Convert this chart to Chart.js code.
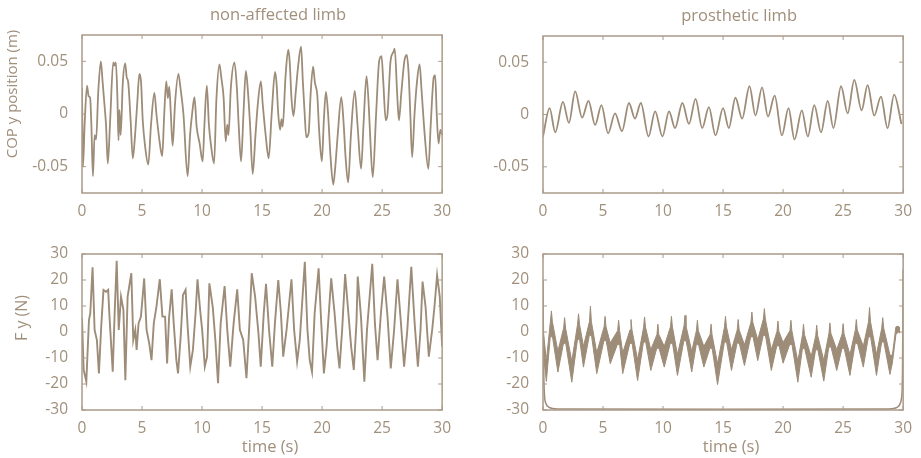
<!DOCTYPE html>
<html>
<head>
<meta charset="utf-8">
<script src="https://cdn.jsdelivr.net/npm/chart.js@4.4.0/dist/chart.umd.min.js"></script>
<style>
body { margin: 0; background: #fff; }
#wrap { position: relative; width: 921px; height: 458px; }
canvas { position: absolute; }
</style>
</head>
<body>
<div id="wrap">
  <canvas id="copAff" width="460" height="229" style="left:0;top:0"></canvas>
  <canvas id="copPro" width="460" height="229" style="left:461px;top:0"></canvas>
  <canvas id="fyAff" width="460" height="229" style="left:0;top:229px"></canvas>
  <canvas id="fyPro" width="460" height="229" style="left:461px;top:229px"></canvas>
</div>
<script>
const timeTicks = [0, 5, 10, 15, 20, 25, 30];
const copTicks = [-0.05, 0, 0.05];
const forceTicks = [-30, -20, -10, 0, 10, 20, 30];

// COP y, non-affected limb (time s, position m)
const copAffT = [0, 0.08, 0.22, 0.42, 0.55, 0.68, 0.78, 0.91, 1.05, 1.18, 1.35, 1.57, 1.72, 1.9, 2.0, 2.15, 2.35, 2.6, 2.72, 2.82,
  2.95, 3.04, 3.12, 3.22, 3.4, 3.6, 3.72, 3.85, 4.05, 4.23, 4.42, 4.6, 4.78, 4.92, 5.06, 5.25, 5.52, 5.75, 6.03, 6.2,
  6.45, 6.68, 6.85, 7.02, 7.15, 7.27, 7.4, 7.55, 7.75, 8.03, 8.2, 8.45, 8.8, 9.0, 9.2, 9.37, 9.55, 9.8, 10.05, 10.2,
  10.4, 10.57, 10.75, 11.0, 11.2, 11.45, 11.6, 11.8, 11.97, 12.1, 12.2, 12.4, 12.7, 12.9, 13.05, 13.25, 13.45, 13.65, 13.8, 14.0,
  14.22, 14.45, 14.65, 14.9, 15.05, 15.3, 15.55, 15.8, 16.08, 16.2, 16.35, 16.5, 16.62, 16.72, 16.95, 17.18, 17.3, 17.45, 17.62, 17.8,
  18.0, 18.25, 18.4, 18.55, 18.68, 18.88, 19.05, 19.25, 19.4, 19.6, 19.75, 19.98, 20.15, 20.32, 20.5, 20.7, 20.93, 21.1, 21.3, 21.6,
  21.8, 21.95, 22.17, 22.4, 22.72, 22.95, 23.25, 23.45, 23.7, 23.9, 24.0, 24.22, 24.5, 24.75, 24.95, 25.1, 25.3, 25.45, 25.7, 25.95,
  26.05, 26.25, 26.4, 26.6, 26.85, 27.05, 27.2, 27.35, 27.5, 27.7, 27.9, 28.12, 28.3, 28.55, 28.85, 29.05, 29.3, 29.42, 29.55, 29.7,
  29.85, 30];
const copAffY = [0.025, -0.05, -0.01, 0.027, 0.017, 0.015, -0.01, -0.059, -0.02, -0.024, 0.02, 0.05, 0.03, 0.005, -0.01, -0.047, -0.005, 0.049, 0.046, 0.049,
  0.015, -0.025, 0.004, -0.02, 0.03, 0.048, 0.035, 0.03, -0.006, -0.042, -0.02, 0.01, 0.038, 0.03, -0.006, -0.03, -0.048, -0.01, 0.02, 0.0,
  -0.025, -0.04, 0.0, 0.031, 0.015, 0.026, 0.0, -0.03, 0.01, 0.038, 0.025, 0.0, -0.059, -0.02, 0.003, 0.016, -0.012, -0.028, -0.045, -0.01,
  0.027, -0.01, -0.03, -0.047, 0.015, 0.047, 0.035, 0.015, -0.026, -0.01, -0.02, 0.025, 0.049, 0.025, -0.01, -0.045, 0.0, 0.041, 0.025, -0.01,
  -0.057, -0.02, 0.01, 0.031, 0.01, -0.02, -0.042, 0.0, 0.04, 0.03, 0.0, -0.015, -0.005, -0.012, 0.035, 0.061, 0.05, 0.015, -0.002, 0.02,
  0.045, 0.064, 0.03, 0.0, -0.022, -0.018, 0.02, 0.045, 0.03, 0.018, -0.015, -0.045, -0.005, 0.021, 0.0, -0.04, -0.067, -0.05, -0.02, 0.016,
  -0.01, -0.04, -0.065, -0.02, 0.022, -0.01, -0.052, -0.01, 0.036, 0.005, -0.02, -0.06, 0.0, 0.05, 0.055, 0.03, -0.006, 0.0, 0.05, 0.059,
  0.062, 0.02, -0.006, 0.02, 0.05, 0.056, 0.04, 0.0, -0.041, 0.0, 0.03, 0.047, 0.02, -0.02, -0.052, -0.01, 0.035, 0.037, 0.0, -0.028,
  -0.015, -0.02];

// COP y, prosthetic limb
const copProT = [0, 0.55, 1.02, 1.66, 2.16, 2.68, 3.26, 3.79, 4.34, 4.87, 5.42, 6.0, 6.58, 7.16, 7.66, 8.15, 8.79, 9.34, 9.95, 10.5,
  11.0, 11.61, 12.16, 12.71, 13.26, 13.82, 14.37, 15.0, 15.48, 16.03, 16.59, 17.2, 17.7, 18.25, 18.74, 19.3, 19.9, 20.45, 20.95, 21.56,
  22.06, 22.6, 23.16, 23.72, 24.19, 24.83, 25.38, 25.93, 26.54, 27.04, 27.59, 28.15, 28.7, 29.25, 29.86];
const copProY = [-0.021, 0.006, -0.017, 0.012, -0.008, 0.022, -0.003, 0.013, -0.01, 0.009, -0.018, 0.001, -0.016, 0.011, -0.004, 0.011, -0.021, 0.003, -0.021, 0.003,
  -0.013, 0.011, -0.009, 0.015, -0.013, 0.007, -0.02, 0.006, -0.013, 0.016, -0.004, 0.027, -0.001, 0.026, -0.002, 0.018, -0.02, 0.006, -0.024, 0.004,
  -0.021, 0.009, -0.017, 0.013, -0.013, 0.027, 0.001, 0.033, 0.004, 0.028, -0.001, 0.017, -0.013, 0.019, -0.009];

// F y, non-affected limb (time s, force N)
const fyAffT = [0, 0.14, 0.36, 0.58, 0.69, 0.88, 1.05, 1.24, 1.41, 1.6, 1.79, 2.01, 2.18, 2.29, 2.56, 2.73, 2.89, 3.06, 3.25, 3.45,
  3.61, 3.8, 4.11, 4.27, 4.44, 4.55, 4.71, 4.91, 5.18, 5.38, 5.6, 5.79, 5.98, 6.2, 6.48, 6.7, 6.92, 7.09, 7.25, 7.47,
  7.64, 7.86, 8.0, 8.22, 8.41, 8.63, 8.8, 9.02, 9.24, 9.46, 9.62, 9.84, 10.01, 10.23, 10.42, 10.61, 10.89, 11.11, 11.33, 11.55,
  11.88, 12.1, 12.35, 12.63, 12.93, 13.15, 13.43, 13.7, 13.92, 14.14, 14.42, 14.7, 14.89, 15.14, 15.33, 15.58, 15.85, 16.07, 16.35, 16.57,
  16.76, 17.04, 17.45, 17.67, 17.92, 18.14, 18.56, 18.78, 18.97, 19.16, 19.38, 19.71, 19.93, 20.15, 20.37, 20.76, 21.04, 21.26, 21.45, 21.67,
  21.92, 22.19, 22.42, 22.64, 22.86, 22.97, 23.24, 23.52, 23.74, 24.18, 24.4, 24.62, 24.9, 25.17, 25.45, 25.72, 26.0, 26.28, 26.55, 26.83,
  27.1, 27.43, 27.71, 27.98, 28.2, 28.37, 28.62, 28.89, 29.17, 29.36, 29.58, 29.8, 30];
const fyAffY = [5.3, -14.6, -19.1, 4.6, 7.2, 24.9, 0.8, -3.1, -15.9, 2.1, 16.2, 15.5, 16.2, 5.9, -15.3, 8.5, 27.4, 0.8, 13.6, 8.5,
  -18.5, 13.6, 22.6, -3.1, 0.8, -6.9, 3.3, 5.9, 20.6, 0.8, -4.4, -10.8, 3.3, 9.7, 20.3, 5.9, 5.9, -12.1, 5.3, 16.4,
  3.3, -10.8, -15.9, -1.8, 14.2, 16.2, 2.1, -13.3, -6.9, 7.2, 20.3, 8.5, 0.8, -13.3, -9.5, 18.7, 9.7, -3.1, -19.7, 3.3,
  17.7, 0.8, -13.3, 3.3, 16.4, 0.8, -3.1, -17.8, 0.8, 22.6, 13.6, -0.5, -13.3, 7.2, 18.5, 0.8, -13.3, 3.3, 20.0, 7.2,
  -9.5, 0.8, 20.3, 0.8, -11.4, -3.1, 27.0, 0.8, -10.8, -15.3, 7.2, 24.5, 3.3, -15.9, -5.6, 20.6, 7.2, -5.6, -14.0, 0.8,
  22.3, 7.2, -5.6, -14.6, 3.3, 21.3, 5.9, -19.1, 0.8, 26.2, 3.3, -10.8, 7.2, 21.3, 5.9, -14.0, 0.8, 20.3, 4.6, -13.3,
  0.8, 25.1, 3.3, -13.3, 0.8, 19.4, 9.7, -9.5, 0.8, 9.7, 21.9, 13.6, -5.6];

// F y, prosthetic limb: upper and lower edge of the dense band
const fyProT = [0.02, 0.28, 0.62, 0.7, 0.78, 1.24, 1.72, 1.8, 1.88, 2.4, 2.88, 2.96, 3.04, 3.37, 3.87, 3.95, 4.03, 4.48, 5.09, 5.17,
  5.25, 5.6, 6.22, 6.3, 6.38, 6.64, 7.25, 7.33, 7.41, 7.88, 8.38, 8.46, 8.54, 8.98, 9.49, 9.57, 9.65, 10.1, 10.62, 10.7,
  10.78, 11.2, 11.75, 11.83, 11.91, 12.39, 12.78, 12.86, 12.94, 13.4, 13.92, 14.0, 14.08, 14.54, 15.12, 15.2, 15.28, 15.7, 16.18, 16.26,
  16.34, 16.78, 17.32, 17.4, 17.48, 17.89, 18.36, 18.44, 18.52, 19.02, 19.49, 19.57, 19.65, 20.0, 20.57, 20.65, 20.73, 21.23, 21.62, 21.7,
  21.78, 22.34, 22.72, 22.8, 22.88, 23.39, 23.82, 23.9, 23.98, 24.47, 24.92, 25.0, 25.08, 25.57, 26.02, 26.1, 26.18, 26.68, 27.12, 27.2,
  27.28, 27.78, 28.22, 28.3, 28.38, 28.9, 29.1, 29.4, 29.6, 29.75];
const fyProHi = [0.5, -11, 4.1, 8.1, 4, -7.4, 1.5, 5.5, 1.5, -11.3, 3, 7, 3, -5.5, 4, 9.9, 4, -8, 2, 6,
  2, -4.2, 0.5, 4.5, 0.5, -8, 0.8, 4.8, 0.8, -10.7, 1.8, 5.8, 1.8, -6.8, -1, 3, -1, -5.5, 2, 6,
  2, -8.7, 2.4, 6.4, 2.4, -7.4, 0.5, 4.5, 0.5, -5.5, -1, 3, -1, -12.2, 2, 6, 2, -6.8, 0.8, 4.8,
  0.8, -4.9, 3.7, 7.7, 3.7, -3, 5, 9, 5, -6.8, 0.2, 4.2, 0.2, -4, 0.5, 4.5, 0.5, -11.3, -1, 3,
  -1, -9.4, -1.4, 2.6, -1.4, -10.9, -0.5, 3.5, -0.5, -6.8, -0.8, 3.2, -0.8, -8.7, 0.8, 4.8, 0.8, -5.5, 4, 9.4,
  4, -8.7, 1.5, 5.5, 1.5, -8.8, -9, 2, 2.2, 1.5];
const fyProLo = [-8, -19, -1, -2, -1.5, -15.4, -4, -4.5, -4, -19.3, -2.5, -3, -2.5, -13.5, -1, -1.5, -1, -16, -3, -3.5,
  -3, -12.2, -4.5, -5, -4.5, -16, -4, -4.5, -4, -18.7, -3.5, -4, -3.5, -14.8, -6, -6.5, -6, -13.5, -4, -4.5,
  -4, -16.7, -3, -3.5, -3, -15.4, -4.5, -5, -4.5, -13.5, -6, -6.5, -6, -20.2, -3.5, -4, -3.5, -14.8, -4, -4.5,
  -4, -12.9, -1.5, -2, -1.5, -11, -1, -1.5, -1, -14.8, -5, -5.5, -5, -12, -4.5, -5, -4.5, -19.3, -6, -6.5,
  -6, -17.4, -6.5, -7, -6.5, -18.9, -5.5, -6, -5.5, -14.8, -6, -6.5, -6, -16.7, -4, -4.5, -4, -13.5, -1.5, -2,
  -1.5, -16.7, -3.5, -4, -3.5, -16.3, -12, -1, 0, -0.5];
// start / end transient of the prosthetic force trace
const fyProEdgeT = [0, 0.01, 0.03, 0.06, 0.1, 0.2, 0.5, 1.2, 28.8, 29.5, 29.8, 29.92, 29.97, 30];
const fyProEdgeY = [20, 12, 0, -14, -22, -27, -29, -29.6, -29.6, -29, -27, -22, 0, 24];

const lineColour = '#9d8c78';
const frameColour = '#ab9b8a';
const textColour = '#a08f7b';
const fontFamily = '"Open Sans", "Noto Sans", sans-serif';

const pairs = (t, v) => t.map((x, i) => ({ x: x, y: v[i] }));

const panelDecor = {
  id: 'panelDecor',
  afterDraw(chart, args, opts) {
    const { ctx, chartArea: a, scales } = chart;
    ctx.save();
    ctx.strokeStyle = frameColour;
    ctx.lineWidth = 1.5;
    ctx.strokeRect(a.left, a.top, a.right - a.left, a.bottom - a.top);
    ctx.lineWidth = 1;
    ctx.beginPath();
    scales.x.ticks.forEach(t => {
      const px = scales.x.getPixelForValue(t.value);
      ctx.moveTo(px, a.bottom); ctx.lineTo(px, a.bottom - 4);
      ctx.moveTo(px, a.top); ctx.lineTo(px, a.top + 4);
    });
    scales.y.ticks.forEach(t => {
      const py = scales.y.getPixelForValue(t.value);
      ctx.moveTo(a.left, py); ctx.lineTo(a.left + 4, py);
      ctx.moveTo(a.right, py); ctx.lineTo(a.right - 4, py);
    });
    ctx.stroke();

    ctx.fillStyle = textColour;
    ctx.textAlign = 'center';
    ctx.textBaseline = 'middle';
    const cx = (a.left + a.right) / 2;
    ctx.font = '16.5px ' + fontFamily;
    if (opts.title) ctx.fillText(opts.title, cx + 16, a.top - 20);
    if (opts.xTitle) ctx.fillText(opts.xTitle, cx + 8, a.bottom + 37);
    if (opts.yTitle) {
      ctx.font = opts.ySize + 'px ' + fontFamily;
      ctx.translate(a.left - opts.yGap, (a.top + a.bottom) / 2 - opts.yShift);
      ctx.rotate(-Math.PI / 2);
      ctx.fillText(opts.yTitle, 0, 0);
    }
    ctx.restore();
  }
};

function makePanel(id, datasets, yRange, yTicks, yFormat, padTop, xAxisHeight, decor) {
  return new Chart(document.getElementById(id), {
    type: 'line',
    data: { datasets: datasets },
    plugins: [panelDecor],
    options: {
      responsive: false,
      animation: false,
      events: [],
      layout: { padding: { top: padTop, right: 16, left: 0, bottom: 0 } },
      elements: { point: { radius: 0 } },
      plugins: { legend: { display: false }, tooltip: { enabled: false }, panelDecor: decor },
      scales: {
        x: {
          type: 'linear', min: 0, max: 30,
          grid: { display: false, drawTicks: false },
          border: { display: false },
          afterBuildTicks: s => { s.ticks = timeTicks.map(v => ({ value: v })); },
          afterFit: s => { s.height = xAxisHeight; },
          ticks: { color: textColour, font: { family: fontFamily, size: 15.5 }, padding: 9, maxRotation: 0 }
        },
        y: {
          type: 'linear', min: yRange[0], max: yRange[1],
          grid: { display: false, drawTicks: false },
          border: { display: false },
          afterBuildTicks: s => { s.ticks = yTicks.map(v => ({ value: v })); },
          afterFit: s => { s.width = 82; },
          ticks: { color: textColour, font: { family: fontFamily, size: 15.5 }, padding: 14, callback: yFormat }
        }
      }
    }
  });
}

const copFormat = v => (v === 0 ? '0' : String(v));
const forceFormat = v => String(v);

makePanel('copAff', [{
  data: pairs(copAffT, copAffY), borderColor: lineColour, borderWidth: 1.8, cubicInterpolationMode: 'monotone'
}], [-0.075, 0.075], copTicks, copFormat, 35, 36,
  { title: 'non-affected limb', yTitle: 'COP y position (m)', yGap: 69, yShift: 20, ySize: 15 });

makePanel('copPro', [{
  data: pairs(copProT, copProY), borderColor: lineColour, borderWidth: 1.8, cubicInterpolationMode: 'monotone'
}], [-0.075, 0.075], copTicks, copFormat, 36, 36,
  { title: 'prosthetic limb' });

makePanel('fyAff', [{
  data: pairs(fyAffT, fyAffY), borderColor: lineColour, borderWidth: 1.9, tension: 0
}], [-30, 30], forceTicks, forceFormat, 25, 48,
  { xTitle: 'time (s)', yTitle: 'F y (N)', yGap: 60, yShift: 14, ySize: 16 });

makePanel('fyPro', [
  { data: pairs(fyProT, fyProHi), borderColor: lineColour, backgroundColor: lineColour, borderWidth: 1, tension: 0, fill: '+1' },
  { data: pairs(fyProT, fyProLo), borderColor: lineColour, borderWidth: 1, tension: 0, fill: false },
  { data: pairs(fyProEdgeT, fyProEdgeY), borderColor: lineColour, borderWidth: 1.5, tension: 0.3, fill: false }
], [-30, 30], forceTicks, forceFormat, 25, 48,
  { xTitle: 'time (s)' });
</script>
</body>
</html>
